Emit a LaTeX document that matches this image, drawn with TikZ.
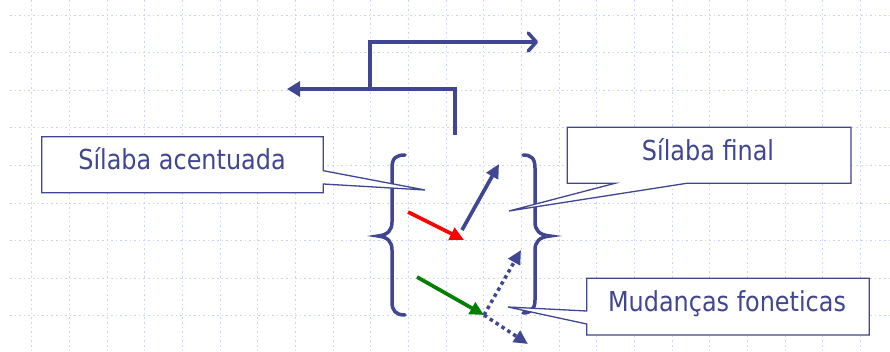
\documentclass[tikz,border=0pt]{standalone}
\usepackage{fontspec}
\setmainfont{DejaVu Sans}[FakeStretch=0.87]
\usetikzlibrary{arrows.meta}
\definecolor{navy}{RGB}{64,70,145}
\definecolor{gridc}{RGB}{200,210,250}
\definecolor{redc}{RGB}{255,0,0}
\definecolor{greenc}{RGB}{0,128,0}
\tikzset{
  gridline/.style={gridc, line width=0.9pt, dash pattern=on 1.6pt off 3pt},
  thickline/.style={navy, line width=3.5pt},
  bracepath/.style={navy, line width=3.5pt, line cap=round},
  tiphead/.style={-{Triangle[length=14pt,width=13pt]}},
  solidarrow/.style={line width=3.7pt, tiphead},
  dotarrow/.style={navy, line width=3.5pt, dash pattern=on 3.5pt off 3.5pt, tiphead},
  callout/.style={navy, line width=1.3pt, fill=white, line join=miter},
  label/.style={text=navy, font=\fontsize{27.5}{30}\selectfont, anchor=base, inner sep=0pt},
}
\begin{document}
\begin{tikzpicture}[x=1pt,y=-1pt]
\useasboundingbox (0,0) rectangle (890,352);
\fill[white] (0,0) rectangle (890,352);

% dotted background grid
\foreach \k in {0,...,9} {
  \draw[gridline] (10,{15+37.6*\k}) -- (890,{15+37.6*\k});
}
\foreach \k in {0,...,22} {
  \draw[gridline] ({31.7+37.67*\k},0) -- ({31.7+37.67*\k},352);
}

% stepped arrows at the top
\coordinate (stem) at (455,135);
\coordinate (stemtop) at (455,89);
\coordinate (leftend) at (287,89);
\coordinate (branch) at (370,89);
\coordinate (branchtop) at (370,42);
\coordinate (rightend) at (538,42);
\draw[thickline, -{Triangle[length=13pt,width=15pt]}] (stem) -- (stemtop) -- (leftend);
\draw[thickline, -{Straight Barb[length=8pt,width=18pt,line cap=round,line join=round]}]
  (branch) -- (branchtop) -- (rightend);

% braces
\draw[bracepath] (405,155) .. controls (396,155) and (392,158) .. (392,168)
  -- (392,222) .. controls (392,230) and (388,235) .. (378,236)
  .. controls (388,237) and (392,242) .. (392,250)
  -- (392,302) .. controls (392,311) and (396,315) .. (405,315);
\draw[bracepath] (523,155) .. controls (531,155) and (535,158) .. (535,168)
  -- (535,222) .. controls (535,230) and (539,235) .. (550,236)
  .. controls (539,237) and (535,242) .. (535,250)
  -- (535,300) .. controls (535,309) and (531,313) .. (523,313);

% arrows inside the braces
\coordinate (r0) at (408,212);
\coordinate (r1) at (464,240);
\coordinate (b0) at (462,230);
\coordinate (b1) at (499,164);
\coordinate (g0) at (417,277);
\coordinate (g1) at (484,315);
\coordinate (d1) at (521,250);
\coordinate (d2) at (528,344);
\draw[solidarrow, redc] (r0) -- (r1);
\draw[solidarrow, navy] (b0) -- (b1);
\draw[solidarrow, greenc] (g0) -- (g1);
\draw[dotarrow] (g1) -- (d1);
\draw[dotarrow] (g1) -- (d2);

% callouts
\coordinate (tipA) at (425,190);
\coordinate (tipB) at (509,211);
\coordinate (tipC) at (508,307);
\draw[callout] (41.7,136.7) -- (323.3,136.7) -- (323.3,170.7) -- (tipA)
  -- (323.3,184) -- (323.3,192.7) -- (41.7,192.7) -- cycle;
\draw[callout] (567.3,127.3) -- (851,127.3) -- (851,183.3) -- (686.7,183.3)
  -- (tipB) -- (615,183.3) -- (567.3,183.3) -- cycle;
\draw[callout] (586.7,278.3) -- (869.3,278.3) -- (869.3,335) -- (586.7,335)
  -- (586.7,324) -- (tipC) -- (586.7,311) -- cycle;
\node[label] (acentuada) at (182,170) {Sílaba acentuada};
\node[label] (final) at (708,161) {Sílaba final};
\node[label] (mudancas) at (727,311.5) {Mudanças foneticas};
\end{tikzpicture}
\end{document}
